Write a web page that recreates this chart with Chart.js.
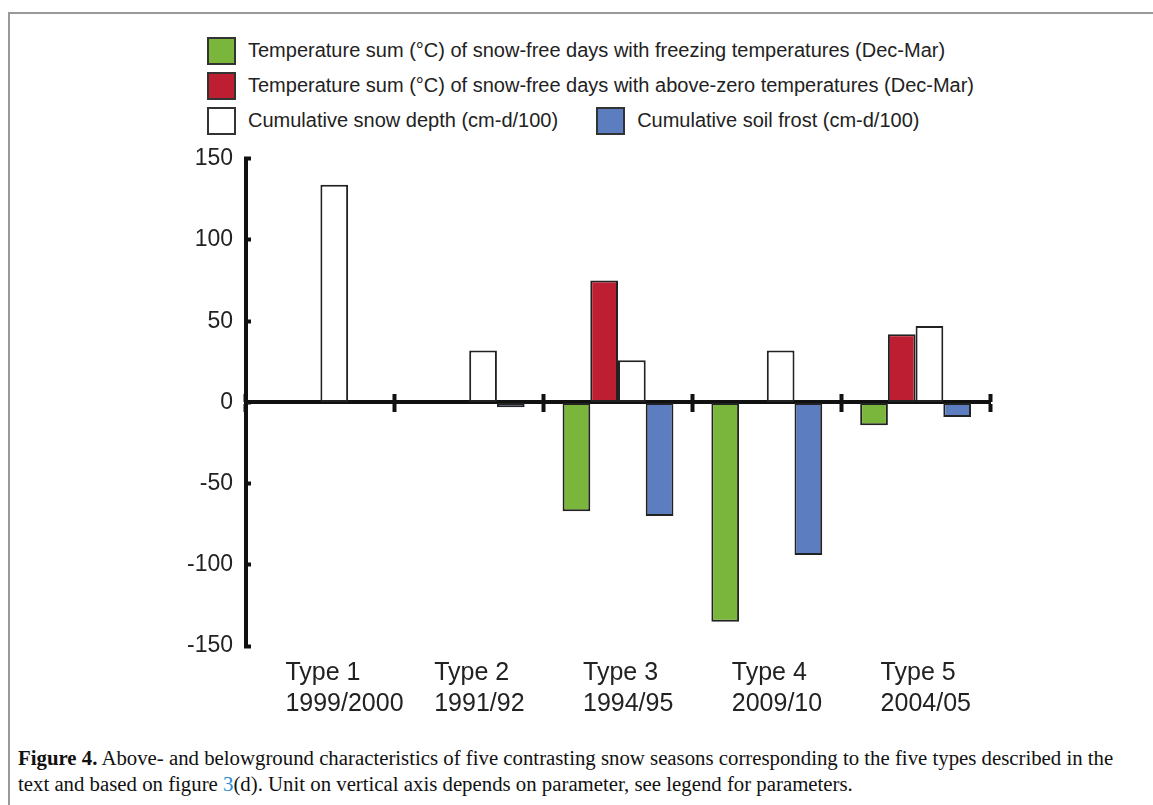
<!DOCTYPE html>
<html>
<head>
<meta charset="utf-8">
<script src="https://cdn.jsdelivr.net/npm/chart.js@4/dist/chart.umd.min.js"></script>
<style>
  body { margin: 0; width: 1153px; height: 805px; overflow: hidden; background: #fff; position: relative; }
  #frame { position: absolute; left: 8px; top: 12px; width: 1170px; height: 820px; border: 2px solid #999; }
  #legend { position: absolute; left: 207px; top: 37px; width: 790px; display: flex; flex-wrap: wrap; column-gap: 38px; row-gap: 8px;
            font-family: "Liberation Sans", Arial, sans-serif; font-size: 20px; color: #222; }
  .item { display: flex; align-items: center; height: 27px; }
  .box { width: 25px; height: 24px; border: 2px solid #333; margin-right: 12px; }
  #wrap { position: absolute; left: 0; top: 127px; width: 1153px; height: 613px; }
  #caption { position: absolute; left: 18px; top: 745px; width: 1100px; font-family: "Liberation Serif", "Times New Roman", serif;
             font-size: 20.8px; line-height: 26px; color: #111; }
  #caption b { font-weight: bold; }
  #caption a { color: #2a8ad4; text-decoration: none; }
</style>
</head>
<body>
<div id="frame"></div>
<div id="legend"></div>
<div id="wrap"><canvas id="grafico"></canvas></div>
<div id="caption"><b>Figure 4.</b> Above- and belowground characteristics of five contrasting snow seasons corresponding to the five types described in the text and based on figure <a>3</a>(d). Unit on vertical axis depends on parameter, see legend for parameters.</div>

<script>
// Datos
const tipos = ['Type 1', 'Type 2', 'Type 3', 'Type 4', 'Type 5'];
const temporadas = ['1999/2000', '1991/92', '1994/95', '2009/10', '2004/05'];

const sumaHelada = [0, 0, -67, -135, -14];
const sumaSobreCero = [0, 0, 75, 0, 42];
const nieveAcumulada = [134, 32, 26, 32, 47];
const escarchaSuelo = [0, -3, -70, -94, -9];

const nombresSeries = [
    'Temperature sum (°C) of snow-free days with freezing temperatures (Dec-Mar)',
    'Temperature sum (°C) of snow-free days with above-zero temperatures (Dec-Mar)',
    'Cumulative snow depth (cm-d/100)',
    'Cumulative soil frost (cm-d/100)'
];
const colores = ['#7ab63c', '#be1e32', '#ffffff', '#5c7dc0'];

const etiquetas = tipos.map((t, i) => [t, temporadas[i]]);

const series = [sumaHelada, sumaSobreCero, nieveAcumulada, escarchaSuelo];

// Leyenda en HTML
document.getElementById('legend').innerHTML = nombresSeries.map((n, i) =>
    `<div class="item"><div class="box" style="background:${colores[i]}"></div>${n}</div>`).join('');

const fuente = '"Liberation Sans", Arial, sans-serif';

const ctx = document.getElementById('grafico').getContext('2d');
const grafico = new Chart(ctx, {
    type: 'bar',
    data: {
        labels: etiquetas,
        datasets: series.map((d, i) => ({
            label: nombresSeries[i],
            data: d,
            backgroundColor: colores[i],
            borderColor: '#222',
            borderWidth: 2,
            borderSkipped: false,
            categoryPercentage: 0.745,
            barPercentage: 1.0
        }))
    },
    options: {
        responsive: true,
        maintainAspectRatio: false,
        animation: false,
        layout: { padding: { left: 0, right: 163, top: 0, bottom: 0 } },
        plugins: { legend: { display: false }, tooltip: { enabled: false } },
        scales: {
            x: {
                type: 'category',
                position: { y: 0 },
                offset: true,
                grid: { offset: true, drawOnChartArea: false, drawTicks: true, tickLength: 8, tickWidth: 4, tickColor: '#111' },
                border: { display: true, color: '#111', width: 4 },
                ticks: { display: false }
            },
            xArriba: {
                type: 'category',
                position: { y: 0 },
                offset: true,
                grid: { offset: true, drawOnChartArea: false, drawTicks: true, tickLength: -8, tickWidth: 4, tickColor: '#111' },
                border: { display: false },
                ticks: { display: false }
            },
            xEtiquetas: {
                type: 'category',
                position: 'bottom',
                offset: true,
                grid: { display: false, drawTicks: false },
                border: { display: false },
                ticks: { align: 'start', labelOffset: -35, padding: 11, color: '#222', font: { family: fuente, size: 25, lineHeight: 1.25 } },
                afterFit: s => { s.height = 94; }
            },
            y: {
                min: -150,
                max: 150,
                grid: { drawOnChartArea: false, drawTicks: true, tickLength: -5, tickWidth: 4, tickColor: '#111' },
                border: { display: true, color: '#111', width: 4 },
                ticks: { stepSize: 50, padding: 18, color: '#222', font: { family: fuente, size: 23 } },
                afterFit: s => { s.width = 246; }
            }
        }
    }
});
</script>
</body>
</html>
